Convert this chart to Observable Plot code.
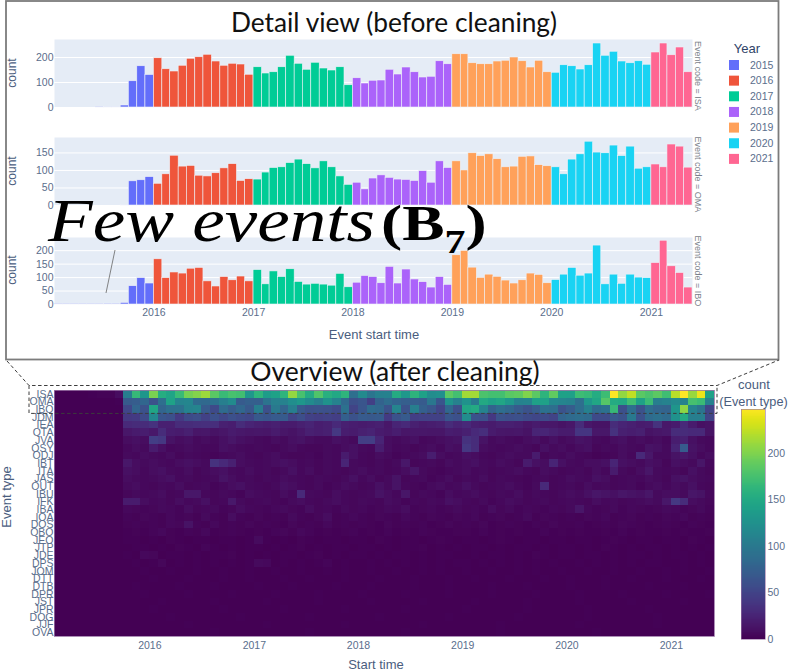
<!DOCTYPE html>
<html><head><meta charset="utf-8">
<script src="https://cdn.jsdelivr.net/npm/d3@7"></script>
<script src="https://cdn.jsdelivr.net/npm/@observablehq/plot@0.6"></script>
<style>
html,body{margin:0;padding:0;background:#fff}
#page{position:relative;width:789px;height:671px;overflow:hidden;font-family:"Liberation Sans",Arial,sans-serif}
#page>svg,#page>div{position:absolute}
text{font-family:"Liberation Sans",Arial,sans-serif}
</style></head><body><div id="page"></div>
<script>
// ---- detail view: Jan 2015 .. May 2021
const ISA=[0,0,0,0,0,1,2,2,8,105,165,130,
197,153,144,167,195,201,211,184,167,175,172,131,
161,136,141,161,207,175,151,179,156,148,161,89,
117,96,107,108,151,132,160,141,120,123,185,173,
213,213,177,173,173,184,187,200,185,160,187,141,
139,169,165,152,169,256,207,223,184,177,185,171,
220,256,209,240,141];
const OMA=[0,0,0,0,0,0,0,0,1,69,72,81,
62,89,142,111,113,85,83,92,106,118,70,75,
74,94,107,109,121,131,118,106,126,109,83,59,
65,46,77,86,79,74,73,70,98,65,126,107,
126,100,149,141,146,132,109,111,139,140,115,112,
109,89,131,146,182,151,149,171,141,168,105,109,
117,109,174,168,108];
const IBO=[1,1,1,1,1,1,3,3,6,68,98,78,
168,98,119,115,133,136,86,67,102,90,104,86,
128,75,123,102,131,84,74,77,74,70,114,64,
81,106,102,79,140,78,130,93,83,63,102,73,
183,199,137,99,111,103,89,78,90,115,110,79,
91,111,136,107,115,219,75,111,77,111,100,98,
154,237,142,117,63];
const yearNames=["2015","2016","2017","2018","2019","2020","2021"];
const yearColors=["#636EFA","#EF553B","#00CC96","#AB63FA","#FFA15A","#19D3F3","#FF6692"];
const detailTicks=[200,100,0];
const yearTicks=[2016,2017,2018,2019,2020,2021];

// ---- overview: event types top to bottom; rows run Oct 2015 .. May 2021 (missing leading months are 0)
const eventTypes=["ISA","OMA","IBO","JDM","IEA","OTA","JVA","OSY","ODJ","IBT","ITA","JAS","OUT","IBU","IFK","IBA","IOA","DOS","OBO","JEO","JTP","JDE","DPS","JOM","DTT","DTB","DPR","JST","JPR","DOG","JJF","OVA"];
const IBOclean=[52,80,62,
145,80,90,92,110,112,70,55,85,72,82,68,
105,60,100,80,105,68,60,62,60,55,92,50,
65,85,82,62,112,62,105,75,66,50,82,58,
145,150,110,78,88,82,70,62,72,92,88,62,
72,88,108,85,92,165,60,88,62,88,80,78,
130,205,110,95,50];
const JDM=[40,42,55,
115,65,60,42,55,58,48,60,52,60,55,52,
68,65,70,70,50,58,48,45,48,45,75,62,
70,68,70,42,62,70,45,48,48,48,65,60,
120,62,60,40,62,58,60,55,52,55,50,80,
85,88,85,55,55,68,62,100,60,85,90,85,
125,150,105,105,50];
const IEA=[28,30,30,
35,22,22,30,30,32,33,32,22,20,30,25,
22,20,22,18,18,22,25,20,22,28,22,20,
18,20,22,15,25,28,22,18,20,22,30,25,
28,22,20,18,22,22,20,15,18,15,15,12,
15,30,15,12,12,30,25,22,18,20,35,15,
18,28,18,10,12];
const OTA=[15,18,20,
16,30,20,18,22,14,15,12,14,18,16,14,
15,14,18,14,12,16,22,20,22,40,20,18,
22,24,18,16,20,14,15,15,14,14,20,18,
22,28,32,18,15,14,15,12,25,26,22,18,
18,38,38,15,15,35,22,20,22,12,14,16,
30,30,28,28,12];
const JVA=[8,10,8,
45,40,12,8,10,6,8,6,10,14,10,8,
6,5,8,6,10,12,8,6,6,10,8,6,
45,45,25,8,6,8,10,5,6,8,10,12,
35,30,12,6,8,6,5,8,10,6,10,6,
8,12,10,6,5,8,10,6,8,6,8,5,
20,22,10,6,5];
const OSY=[5,8,6,
18,10,5,6,8,6,5,5,10,8,6,5,
6,5,4,6,8,5,4,4,6,5,8,10,
6,5,20,8,5,6,4,6,8,5,10,8,
40,30,8,6,5,6,8,6,4,10,6,8,
5,8,10,4,6,5,8,6,5,12,10,6,
25,70,12,8,5];
const ODJ=[6,5,8,
6,5,8,4,6,5,4,3,5,6,8,5,
4,6,8,5,4,4,5,3,6,5,18,10,
5,4,8,6,3,5,6,8,20,8,5,6,
10,8,5,4,6,8,6,6,18,4,6,5,
8,5,4,2,3,4,8,5,28,15,6,6,
12,15,10,5,8];
const IBT=[15,8,6,
8,6,5,8,10,8,6,35,28,22,8,6,
5,6,8,10,8,5,6,4,6,5,25,6,
5,4,6,4,6,15,4,5,6,4,8,6,
8,10,6,5,8,6,4,18,10,8,25,10,
6,5,8,8,10,25,10,8,6,10,8,4,
10,8,6,14,5];
const ITA=[10,8,5,
8,10,6,5,8,4,6,8,10,6,5,8,
5,6,4,6,10,5,8,4,6,5,4,6,
8,5,6,4,5,8,14,6,4,3,5,6,
8,5,6,4,5,6,8,5,4,8,6,4,
5,6,4,8,5,18,6,4,8,14,6,5,
6,4,10,6,4];
const JAS=[8,6,5,
6,8,10,5,6,4,5,6,12,8,5,6,
4,6,5,8,6,5,4,6,5,4,6,10,
5,8,4,6,12,4,5,6,3,5,8,4,
6,5,8,4,6,5,4,3,5,6,4,5,
8,6,5,10,8,4,5,6,5,8,6,4,
10,12,8,6,5];
const OUT=[6,8,5,
4,6,5,8,4,5,6,3,5,8,10,6,
5,4,6,10,8,5,4,6,3,5,8,6,
4,5,10,6,12,5,4,3,6,8,5,6,
10,6,4,5,6,8,5,3,6,28,4,5,
6,4,8,5,6,4,5,6,3,6,8,5,
8,6,10,5,4];
const IBU=[4,6,5,
6,8,4,5,15,15,5,4,6,5,3,8,
6,5,4,8,5,28,6,5,4,8,5,4,
5,6,12,8,5,14,4,6,5,3,8,5,
6,8,5,4,6,5,8,4,6,5,4,6,
8,6,10,14,12,10,14,12,10,14,6,8,
8,6,14,12,5];
const IFK=[18,18,8,
5,6,4,8,5,6,10,4,5,16,6,4,
5,6,4,3,6,8,5,4,6,8,5,4,
6,5,4,8,6,3,5,4,6,5,10,8,
5,4,6,3,5,8,6,4,5,6,4,5,
6,5,4,8,5,6,4,5,6,8,6,15,
40,30,8,6,4];
const IBA=[5,4,3,
4,6,5,3,8,4,5,6,3,4,8,5,
4,3,5,6,4,3,8,4,5,3,6,4,
5,3,4,6,5,8,3,4,5,3,4,6,
4,5,3,8,4,6,3,5,4,3,5,4,
6,14,5,3,4,6,3,5,4,3,4,6,
5,3,4,6,3];
const IOA=[3,2,4,
3,2,5,3,4,2,6,3,2,8,3,2,
4,2,3,2,6,3,2,4,8,2,3,5,
3,2,4,3,2,5,3,2,4,3,2,4,
3,5,2,3,4,2,3,6,2,4,3,2,
3,2,4,3,5,2,3,4,2,3,2,4,
3,5,2,3,2];
const DOS=[2,3,2,
3,2,5,4,12,3,2,5,2,3,2,4,
2,3,2,1,4,2,3,2,5,2,3,2,
3,2,1,4,2,3,2,3,1,2,4,2,
3,2,4,1,2,3,2,1,3,2,4,2,
2,3,1,2,3,2,4,3,2,1,2,3,
2,1,3,2,1];
const OBO=[1,2,1,
3,5,2,1,3,2,5,1,2,3,2,1,
2,1,3,4,2,5,3,1,2,1,2,3,
1,2,1,3,1,2,1,3,2,1,1,2,
2,1,3,1,2,1,2,1,1,3,1,2,
1,2,1,1,2,1,3,1,2,1,1,2,
1,2,1,1,2];
const JEO=[1,1,0,
1,0,2,1,0,1,1,0,1,1,0,1,
7,1,0,1,0,2,1,0,1,1,0,1,
1,0,2,1,0,1,1,0,1,2,1,0,
1,1,0,1,2,1,0,1,1,0,1,1,
0,1,1,0,1,2,1,0,1,1,0,1,
1,0,2,1,0];
const JTP=[0,1,1,
0,1,0,2,1,0,3,1,0,1,0,1,
1,0,1,0,1,2,0,1,0,1,1,0,
1,1,0,1,0,1,1,2,0,1,0,1,
0,1,1,0,1,0,1,1,0,1,0,1,
1,0,1,0,2,1,0,1,0,1,1,0,
1,0,1,0,1];
const JDE=[1,0,5,
4,0,1,1,0,1,0,1,1,2,0,1,
0,1,0,1,1,0,1,2,0,1,0,1,
1,0,1,0,1,1,0,1,0,1,1,0,
0,1,0,1,1,0,1,0,2,1,0,1,
1,0,1,1,0,1,0,1,1,0,1,0,
1,1,0,1,0];
const DPS=[0,1,0,
1,4,0,1,0,1,0,1,0,1,0,1,
6,5,0,1,0,1,0,1,3,0,1,0,
0,1,0,1,0,1,0,1,0,1,0,1,
1,0,1,0,1,0,1,0,1,0,1,0,
0,1,0,1,0,1,0,1,0,1,1,0,
0,1,0,1,0];
const JOM=[0,0,1,0,0,1,0,0,1,0,0,1,0,0,1,0,0,1,0,0,1,0,0,1,0,1,0,0,1,0,0,1,0,0,1,0,1,0,0,1,0,0,1,0,0,1,0,1,0,0,1,0,0,1,0,0,1,0,0,1,0,0,1,0,1,0,0,1];
const DTT=[0,0,0,1,0,0,0,1,0,0,0,1,0,0,1,0,0,0,1,0,0,1,0,0,0,1,0,0,0,1,0,0,0,1,0,0,0,1,0,0,1,0,0,0,1,0,0,0,1,0,0,1,0,0,0,1,0,0,1,0,0,0,1,0,0,0,1,0];
const DTB=[0,1,0,0,0,0,1,0,0,0,1,0,0,0,0,1,0,0,0,1,0,0,0,0,1,0,0,0,1,0,0,0,0,1,0,0,0,1,0,0,0,0,1,0,0,0,1,0,0,0,0,1,0,0,0,1,0,0,0,0,1,0,0,0,1,0,0,0];
const DPR=[0,0,1,0,0,0,0,1,0,0,0,0,1,0,0,0,0,1,0,0,0,0,1,0,0,0,0,1,0,0,0,0,1,0,0,0,0,1,0,0,0,0,1,0,0,0,0,1,0,0,0,0,1,0,0,0,0,1,0,0,0,0,1,0,0,0,0,1];
const JST=[0,0,0,0,1,0,0,0,0,0,1,0,0,0,0,0,1,0,0,0,0,0,1,0,0,0,0,0,1,0,0,0,0,0,1,0,0,0,0,0,1,0,0,0,0,0,1,0,0,0,0,0,1,0,0,0,0,0,1,0,0,0,0,0,1,0,0,0];
const JPR=[0,0,0,1,0,0,0,0,0,0,0,1,0,0,0,0,0,0,1,0,0,0,0,0,0,1,0,0,0,0,0,0,1,0,0,0,0,0,0,1,0,0,0,0,0,0,1,0,0,0,0,0,0,1,0,0,0,0,0,0,1,0,0,0,0,0,0,0];
const DOG=[0,0,0,0,0,1,0,0,0,0,0,0,0,1,0,0,0,0,0,0,0,1,0,0,0,0,0,0,0,1,0,0,0,0,0,0,0,1,0,0,0,0,0,0,0,1,0,0,0,0,0,0,0,1,0,0,0,0,0,0,0,1,0,0,0,0,0,0];
const JJF=[0,0,0,0,0,0,0,1,0,0,0,0,0,0,0,0,1,0,0,0,0,0,0,0,0,1,0,0,0,0,0,0,0,0,1,0,0,0,0,0,0,0,0,1,0,0,0,0,0,0,0,0,1,0,0,0,0,0,0,0,0,1,0,0,0,0,0,0];
const OVA=[0,0,0,0,0,0,0,0,0,0,1,0,0,0,0,0,0,0,0,0,0,1,0,0,0,0,0,0,0,0,0,0,1,0,0,0,0,0,0,0,0,0,0,1,0,0,0,0,0,0,0,0,0,0,1,0,0,0,0,0,0,0,0,0,0,0,0,0];
const overviewRows=[ISA.slice(1),OMA.slice(1),IBOclean,JDM,IEA,OTA,JVA,OSY,ODJ,IBT,ITA,JAS,OUT,IBU,IFK,IBA,IOA,DOS,OBO,JEO,JTP,JDE,DPS,JOM,DTT,DTB,DPR,JST,JPR,DOG,JJF,OVA];
const colorTicks=[0,50,100,150,200];

const page=document.getElementById("page");
const place=(el,left,top)=>{el.style.left=left+"px";el.style.top=top+"px";page.appendChild(el);};
const d=(y,m=0)=>new Date(Date.UTC(y,m,1));
const tickColor="#5a6e8c", titleColor="#4a5d7e";
const yearDates=yearTicks.map(y=>d(y));

function detail(values,top,bottom,maxY,ticks,showX){
  const months=values.map((v,i)=>({start:d(2015,i),end:d(2015,i+1),count:v,year:String(2015+Math.floor(i/12))}));
  const h=bottom-top;
  const marks=[
    Plot.frame({fill:"#E5ECF6",stroke:null}),
    Plot.gridY(ticks,{stroke:"#fff",strokeOpacity:1,strokeWidth:1}),
    Plot.rect(months,{x1:"start",x2:"end",y1:0,y2:"count",fill:"year",stroke:"#EEF2F8",strokeWidth:0.6}),
    Plot.axisY(ticks,{anchor:"left",tickSize:0,tickPadding:1,label:null,fontSize:10.5,fill:tickColor})
  ];
  if(showX) marks.push(Plot.axisX(yearDates,{anchor:"bottom",tickSize:0,tickPadding:4,label:null,tickFormat:t=>String(t.getUTCFullYear()),fontSize:10.5,fill:tickColor}));
  else marks.push(Plot.axisX([], {label:null}));
  const svg=Plot.plot({width:789,height:h+(showX?18:0),marginTop:0,marginRight:97,marginBottom:showX?18:0,marginLeft:54,
    style:{background:"transparent",overflow:"visible"},
    x:{type:"utc",domain:[d(2015,0),d(2021,5)]},
    y:{domain:[0,maxY]},
    color:{type:"ordinal",domain:yearNames,range:yearColors},
    marks});
  place(svg,0,top);
}
detail(ISA,39,107,272,detailTicks,false);
detail(OMA,137,205,194,[150,100,50,0],false);
detail(IBO,237,304,249,[200,150,100,50,0],true);

// overview heatmap
const cells=[];
overviewRows.forEach((row,r)=>{
  const lead=76-row.length;
  for(let c=0;c<76;c++){
    cells.push({type:eventTypes[r],start:d(2015,1+c),end:d(2015,2+c),count:c<lead?0:row[c-lead]});
  }
});
const colorOpt={type:"linear",scheme:"viridis",domain:[0,247],clamp:true};
place(Plot.plot({width:789,height:246+24,marginTop:0,marginRight:75,marginBottom:24,marginLeft:54,
  style:{background:"transparent",overflow:"visible"},
  x:{type:"utc",domain:[d(2015,1),d(2021,5)]},
  y:{domain:eventTypes,padding:0,round:false},
  color:colorOpt,
  marks:[
    Plot.barX(cells,{x1:"start",x2:"end",y:"type",fill:"count",shapeRendering:"crispEdges"}),
    Plot.frame({stroke:"#9a74a6",strokeWidth:0.8}),
    Plot.axisY({anchor:"left",tickSize:0,tickPadding:1,label:null,fontSize:10.5,fill:tickColor}),
    Plot.axisX(yearDates,{anchor:"bottom",tickSize:0,tickPadding:5,label:null,tickFormat:t=>String(t.getUTCFullYear()),fontSize:10.5,fill:tickColor})
  ]}),0,390);

// colour bar
place(Plot.plot({width:59,height:238,marginTop:4,marginBottom:4,marginLeft:11,marginRight:24,
  style:{background:"transparent",overflow:"visible"},
  x:{domain:[0,1],axis:null},
  y:{domain:[0,247]},
  color:colorOpt,
  marks:[
    Plot.rect(d3.range(0,247),{x1:0,x2:1,y1:v=>v,y2:v=>v+1.5,fill:v=>v,shapeRendering:"crispEdges"}),
    Plot.frame({stroke:"#9a74a6",strokeWidth:0.6}),
    Plot.axisY(colorTicks,{anchor:"right",tickSize:0,tickPadding:2,label:null,fontSize:10.5,fill:tickColor})
  ]}),730,405);

// legend, frames, titles and annotation layer
const layer=d3.select(page).append("svg").attr("width",789).attr("height",671).style("left","0").style("top","0").style("pointer-events","none");
layer.append("rect").attr("x",6).attr("y",1).attr("width",772.5).attr("height",358.5).attr("fill","none").attr("stroke","#7c7c7c").attr("stroke-width",1.8);
const dash=layer.append("g").attr("fill","none").attr("stroke","#3c3c3c").attr("stroke-width",1).attr("stroke-dasharray","3.5 2.5");
dash.append("path").attr("d","M7 361L29 385.5H717L779 360");
dash.append("path").attr("d","M29 385.5V413.4H717V385.5");

const text=(s,x,y,o={})=>{
  const t=layer.append("text").attr("x",x).attr("y",y).text(s)
    .attr("fill",o.fill||titleColor).attr("font-size",o.size||12).attr("text-anchor",o.anchor||"middle")
    .style("font-family",o.family||'"Liberation Sans",Arial,sans-serif');
  if(o.rotate!=null) t.attr("transform",`rotate(${o.rotate} ${x} ${y})`);
  if(o.style) t.attr("font-style",o.style);
  if(o.weight) t.attr("font-weight",o.weight);
  return t;
};
text("Detail view (before cleaning)",394,32,{size:26.3,family:"Lato",fill:"#111"});
text("Overview (after cleaning)",395,381,{size:26.5,family:"Lato",fill:"#111"});

[73,171,270].forEach(cy=>text("count",16,cy,{size:12,rotate:-90,fill:titleColor}));
[["Event code = ISA",41],["Event code = OMA",136.5],["Event code = IBO",235.5]].forEach(([s,y])=>text(s,695,y,{size:9,rotate:90,anchor:"start",fill:"#7a7f8a"}));
text("Event start time",374,339,{size:13});
text("Start time",376,669,{size:13});
text("Event type",11,497,{size:13,rotate:-90});
text("count",754,389,{size:13});
text("(Event type)",753.5,406,{size:12.7});

text("Year",747,53,{size:13,fill:"#2f4468"});
yearNames.forEach((y,i)=>{
  const cy=65+i*15.65;
  layer.append("rect").attr("x",729).attr("y",cy-5).attr("width",10).attr("height",10).attr("fill",yearColors[i]);
  text(y,750,cy+3.5,{size:10.5,anchor:"start",fill:tickColor});
});

// annotation
layer.append("line").attr("x1",106).attr("y1",293).attr("x2",115).attr("y2",250).attr("stroke","#666").attr("stroke-width",0.8);
text("Few events",48,241,{size:62,anchor:"start",family:"Liberation Serif",style:"italic",fill:"#000"}).attr("textLength",327).attr("lengthAdjust","spacingAndGlyphs");
const b=text("",0,0,{size:50,anchor:"start",family:"Liberation Serif",weight:"bold",fill:"#000"}).attr("transform","translate(381 240) scale(1.27 1)");
b.append("tspan").text("(B");
b.append("tspan").text("7").attr("font-size",33).attr("dy",13);
b.append("tspan").text(")").attr("dy",-13);
</script></body></html>
